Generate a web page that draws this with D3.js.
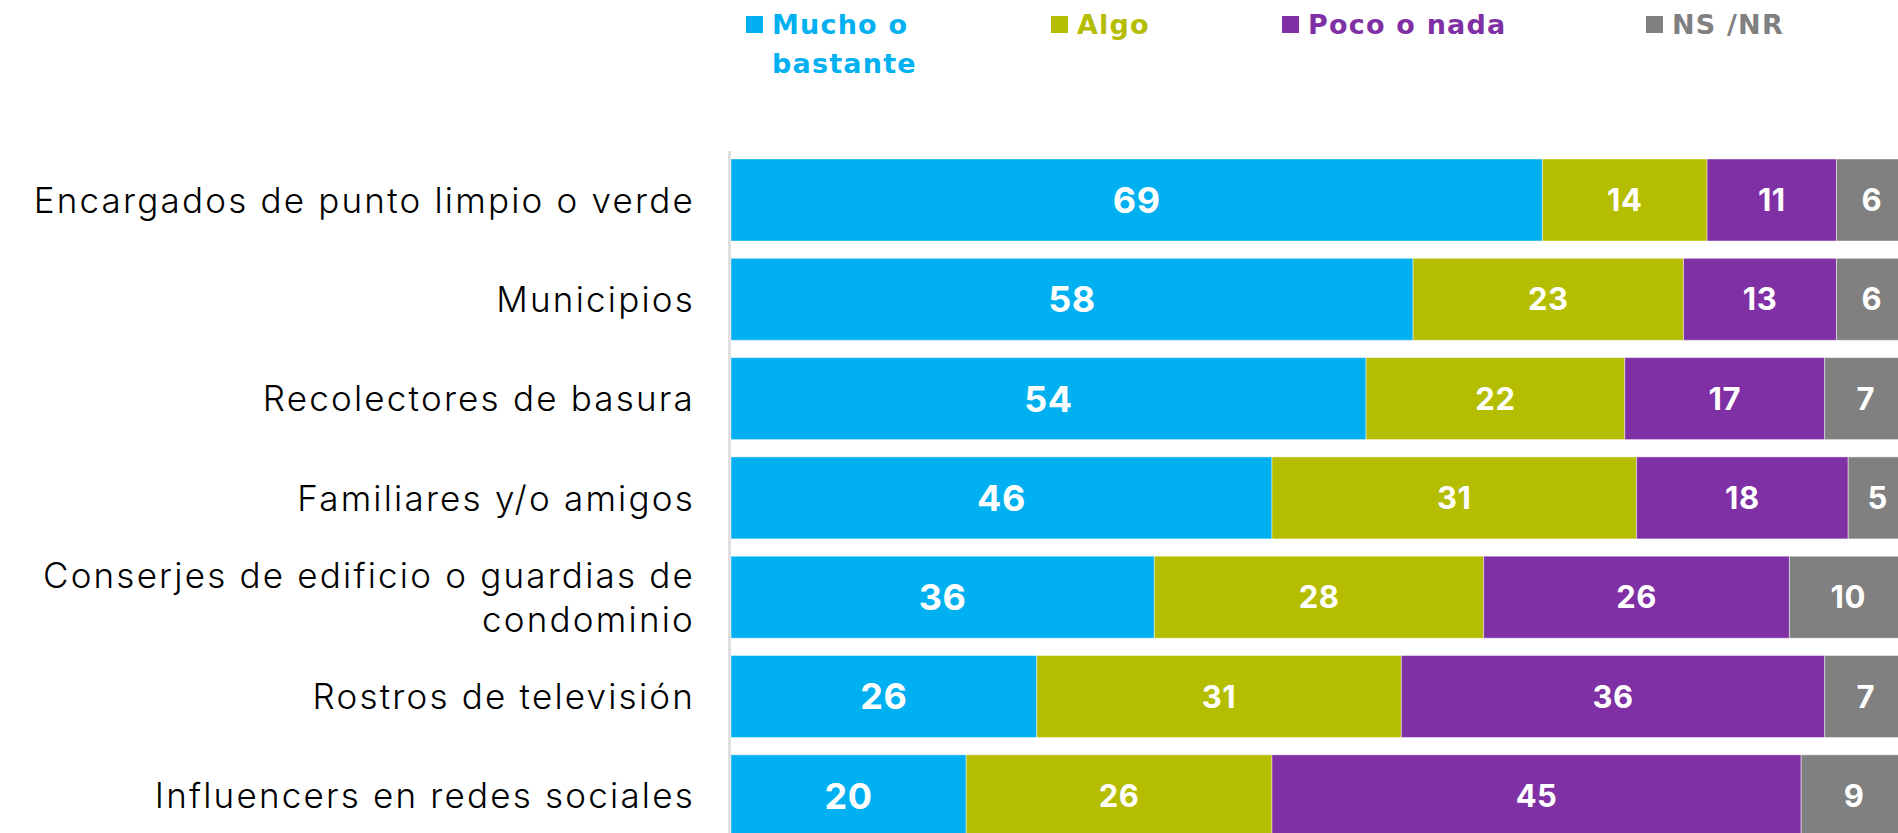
<!DOCTYPE html>
<html>
<head>
<meta charset="utf-8">
<script src="https://cdn.jsdelivr.net/npm/d3@7"></script>
<style>
  body { margin: 0; background: #fff; }
  svg { display: block; }
</style>
</head>
<body>
<div class="chart"></div>
<script>
// Paramètres
const width = 1898;
const height = 833;

// données
const categories = [
  ["Encargados de punto limpio o verde"],
  ["Municipios"],
  ["Recolectores de basura"],
  ["Familiares y/o amigos"],
  ["Conserjes de edificio o guardias de", "condominio"],
  ["Rostros de televisión"],
  ["Influencers en redes sociales"]
];
const series = ["Mucho o bastante", "Algo", "Poco o nada", "NS /NR"];
const legendLines = [["Mucho o", "bastante"], ["Algo"], ["Poco o nada"], ["NS /NR"]];
const mucho = [69, 58, 54, 46, 36, 26, 20];
const algo = [14, 23, 22, 31, 28, 31, 26];
const poco = [11, 13, 17, 18, 26, 36, 45];
const nsnr = [6, 6, 7, 5, 10, 7, 9];

const colors = ["#00B0F0", "#B5BD00", "#7F30A5", "#808080"];

// layout
const x0 = 731, x100 = 1907;
const barTop = 159, step = 99.3, barH = 82;
const legendX = [746, 1051, 1282, 1646];

const rows = categories.map((c, i) => ({
  key: c.join(" "), lines: c,
  values: [mucho[i], algo[i], poco[i], nsnr[i]]
}));

const svg = d3.select('.chart').append('svg')
  .attr('width', width).attr('height', height);

const x = d3.scaleLinear().domain([0, 100]).range([x0, x100]);
const y = d3.scaleBand()
  .domain(rows.map(d => d.key))
  .range([barTop, barTop + categories.length * step - (step - barH)])
  .paddingInner((step - barH) / step)
  .paddingOuter(0);
const color = d3.scaleOrdinal().domain(series).range(colors);

// axe vertical
svg.append('line')
  .attr('x1', x0 - 1.5).attr('x2', x0 - 1.5)
  .attr('y1', 151).attr('y2', height)
  .attr('stroke', '#D9D9D9').attr('stroke-width', 2.5);

const segs = rows.flatMap(r => {
  let acc = 0;
  return r.values.map((v, j) => {
    const s = { key: r.key, serie: series[j], j, v, start: acc, end: acc + v };
    acc += v;
    return s;
  });
});

svg.append('g').selectAll('rect')
  .data(segs)
  .join('rect')
    .attr('x', d => x(d.start))
    .attr('y', d => y(d.key))
    .attr('width', d => x(d.end) - x(d.start))
    .attr('height', y.bandwidth())
    .attr('fill', d => color(d.serie))
    .attr('stroke', 'rgba(255,255,255,0.45)')
    .attr('stroke-width', 1);

svg.append('g').selectAll('text')
  .data(segs)
  .join('text')
    .attr('x', d => x((d.start + d.end) / 2))
    .attr('y', d => y(d.key) + y.bandwidth() / 2)
    .attr('dy', '0.36em')
    .attr('text-anchor', 'middle')
    .attr('fill', '#fff')
    .style('font-family', 'Inter, sans-serif')
    .style('font-weight', 700)
    .style('letter-spacing', '0.5px')
    .style('font-size', d => d.j === 0 ? '36px' : '31px')
    .text(d => d.v);

// étiquettes des catégories
const lab = svg.append('g').selectAll('text')
  .data(rows)
  .join('text')
    .attr('text-anchor', 'end')
    .attr('fill', '#000')
    .style('font-family', 'Inter, sans-serif')
    .style('font-weight', 300)
    .style('font-size', '35px')
    .style('letter-spacing', '2.2px')
    .attr('y', d => y(d.key) + y.bandwidth() / 2);

lab.selectAll('tspan')
  .data(d => d.lines.map((l, i) => ({ l, i, n: d.lines.length })))
  .join('tspan')
    .attr('x', 695)
    .attr('dy', d => d.i === 0 ? `${0.36 - (d.n - 1) * 0.63}em` : '1.26em')
    .text(d => d.l);

// légende
const leg = svg.append('g').selectAll('g')
  .data(series)
  .join('g')
    .attr('transform', (d, i) => `translate(${legendX[i]},0)`);

leg.append('rect')
  .attr('y', 16).attr('width', 17).attr('height', 17)
  .attr('fill', d => color(d));

leg.append('text')
  .attr('fill', d => color(d))
  .style('font-family', '"DejaVu Sans", sans-serif')
  .style('font-weight', 700)
  .style('font-size', '27px')
  .style('letter-spacing', '1.2px')
  .selectAll('tspan')
  .data((d, i) => legendLines[i])
  .join('tspan')
    .attr('x', 26)
    .attr('y', (d, i) => 33.5 + i * 39.5)
    .text(d => d);
</script>
</body>
</html>
